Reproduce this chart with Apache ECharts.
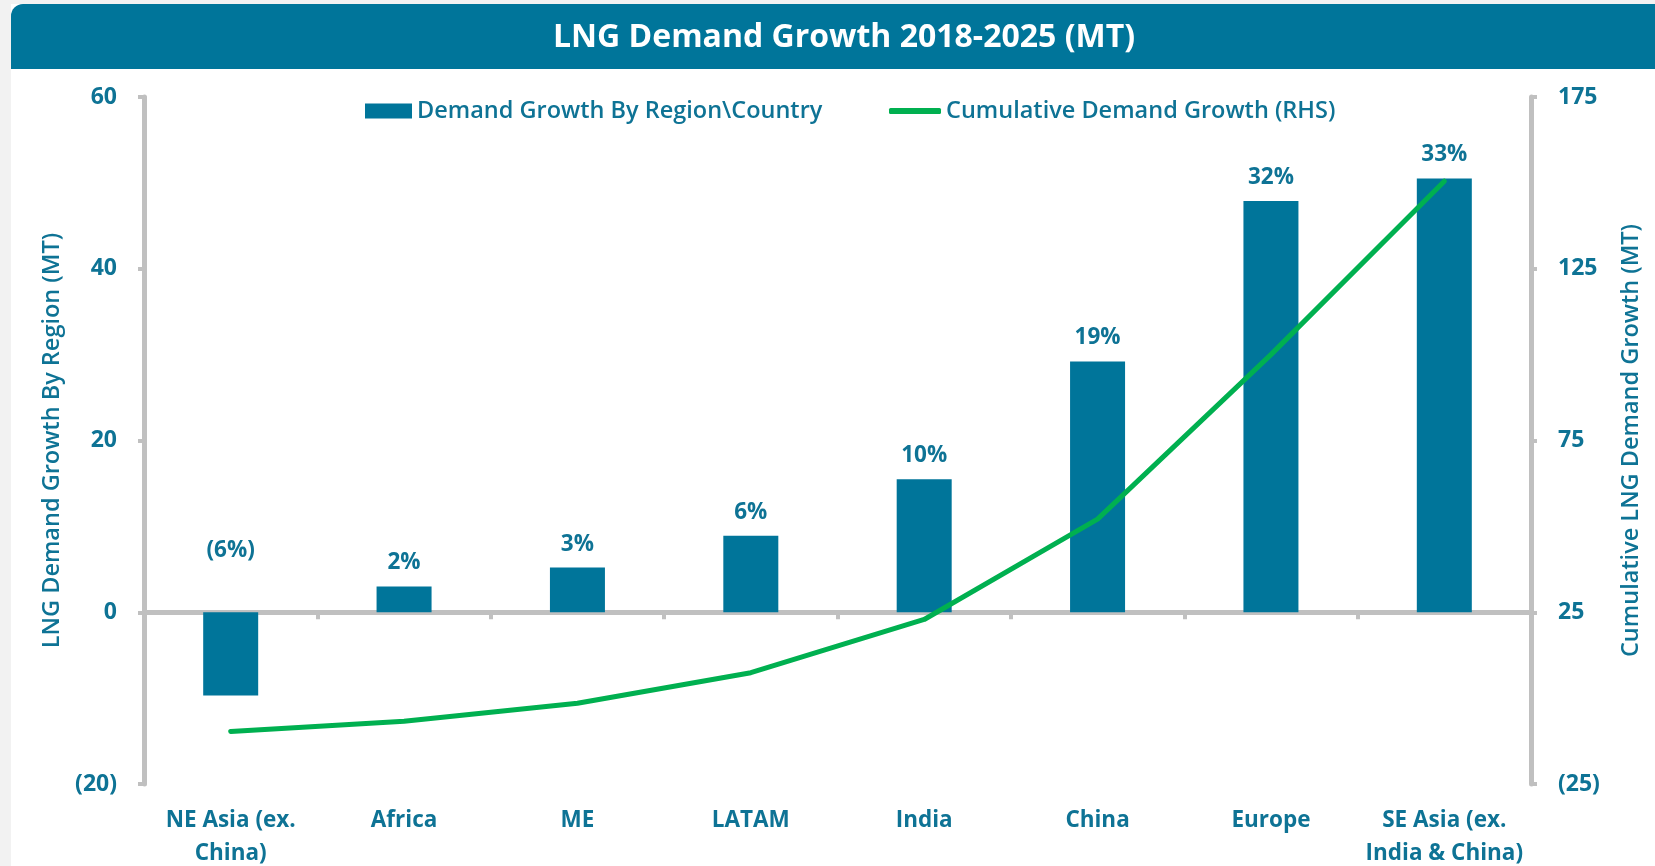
<!DOCTYPE html>
<html>
<head>
<meta charset="utf-8">
<script src="https://cdn.jsdelivr.net/npm/echarts@6/dist/echarts.min.js"></script>
<style>
  html, body { margin: 0; padding: 0; background: #f2f2f2; }
  #chart { width: 1655px; height: 866px; }
</style>
</head>
<body>
<div id="chart"></div>
<script>
const titleText = 'LNG Demand Growth 2018-2025 (MT)';
const categories = ['NE Asia (ex.\nChina)', 'Africa', 'ME', 'LATAM', 'India', 'China', 'Europe', 'SE Asia (ex.\nIndia & China)'];
const demandGrowth = [-9.7, 3.0, 5.2, 8.9, 15.5, 29.2, 47.9, 50.5];
const shareLabels = ['(6%)', '2%', '3%', '6%', '10%', '19%', '32%', '33%'];
const cumulativeGrowth = [-9.7, -6.7, -1.5, 7.4, 22.9, 52.1, 100.0, 150.5];
const barName = 'Demand Growth By Region\\Country';
const lineName = 'Cumulative Demand Growth (RHS)';
const leftAxisName = 'LNG Demand Growth By Region (MT)';
const rightAxisName = 'Cumulative LNG Demand Growth (MT)';

const TEAL = '#00759a';
const TEXT = '#0e7395';
const GREEN = '#00b050';
const GRAY = '#c0c0c0';
const FONT = '"Open Sans", "Liberation Sans", sans-serif';

const fmtNeg = v => (v < 0 ? '(' + Math.abs(v) + ')' : String(v));

const chart = echarts.init(document.getElementById('chart'), null, { renderer: 'canvas' });

const barData = demandGrowth.map((v, i) => {
  const item = { value: v };
  if (v < 0) {
    item.label = { position: 'top', distance: 50 };
  }
  return item;
});

chart.setOption({
  backgroundColor: '#f2f2f2',
  animation: false,
  textStyle: { fontFamily: FONT },
  graphic: [
    { type: 'rect', z: -10, shape: { x: 11, y: 4, width: 1660, height: 870 }, style: { fill: '#ffffff' } },
    { type: 'rect', z: -9, shape: { x: 11, y: 4, width: 1660, height: 65, r: [12, 0, 0, 0] }, style: { fill: TEAL } },
    { type: 'text', z: 10, x: 844, y: 38, style: { text: titleText, fill: '#ffffff', font: 'bold 32px ' + FONT, textAlign: 'center', textVerticalAlign: 'middle' } }
  ],
  legend: [
    {
      data: [{ name: barName, icon: 'rect' }],
      left: 360, top: 94,
      itemWidth: 47, itemHeight: 15,
      textStyle: { color: TEXT, fontSize: 23.5, fontWeight: 600, fontFamily: FONT },
      selectedMode: false
    },
    {
      data: [{ name: lineName, icon: 'roundRect' }],
      left: 884, top: 94,
      itemWidth: 52, itemHeight: 6,
      textStyle: { color: TEXT, fontSize: 23.5, fontWeight: 600, fontFamily: FONT },
      selectedMode: false
    }
  ],
  grid: { left: 144, right: 124, top: 97, bottom: 82, containLabel: false, outerBoundsMode: 'none' },
  xAxis: {
    type: 'category',
    data: categories,
    axisLine: { onZero: true, onZeroAxisIndex: 0, lineStyle: { color: GRAY, width: 5 } },
    axisTick: { show: true, length: 7, interval: 0, lineStyle: { color: GRAY, width: 4 } },
    axisLabel: { color: TEXT, fontSize: 22.5, fontWeight: 'bold', fontFamily: FONT, interval: 0, lineHeight: 33, margin: 20 },
    position: 'bottom'
  },
  yAxis: [
    {
      type: 'value', min: -20, max: 60, interval: 20,
      name: leftAxisName, nameLocation: 'middle', nameGap: 75,
      nameTextStyle: { color: TEXT, fontSize: 23.5, fontWeight: 600, fontFamily: FONT },
      axisLine: { show: true, lineStyle: { color: GRAY, width: 5 } },
      axisTick: { show: true, length: 6, lineStyle: { color: GRAY, width: 4 } },
      axisLabel: { color: TEXT, fontSize: 23, fontWeight: 'bold', fontFamily: FONT, margin: 27, formatter: fmtNeg },
      splitLine: { show: false }
    },
    {
      type: 'value', min: -25, max: 175, interval: 50,
      name: rightAxisName, nameLocation: 'middle', nameGap: 88, nameRotate: 90,
      nameTextStyle: { color: TEXT, fontSize: 23.5, fontWeight: 600, fontFamily: FONT },
      axisLine: { show: true, lineStyle: { color: GRAY, width: 5 } },
      axisTick: { show: true, length: 6, lineStyle: { color: GRAY, width: 4 } },
      axisLabel: { color: TEXT, fontSize: 23, fontWeight: 'bold', fontFamily: FONT, margin: 27, formatter: fmtNeg },
      splitLine: { show: false }
    }
  ],
  series: [
    {
      name: barName,
      type: 'bar',
      yAxisIndex: 0,
      data: barData,
      barWidth: 55,
      itemStyle: { color: TEAL },
      label: {
        show: true, position: 'top', distance: 12,
        color: TEXT, fontSize: 22.5, fontWeight: 'bold', fontFamily: FONT,
        formatter: p => shareLabels[p.dataIndex]
      },
      z: 2
    },
    {
      name: lineName,
      type: 'line',
      yAxisIndex: 1,
      data: cumulativeGrowth,
      symbol: 'none',
      smooth: false,
      lineStyle: { color: GREEN, width: 5, cap: 'round', join: 'round' },
      itemStyle: { color: GREEN },
      z: 3
    }
  ]
});
</script>
</body>
</html>
